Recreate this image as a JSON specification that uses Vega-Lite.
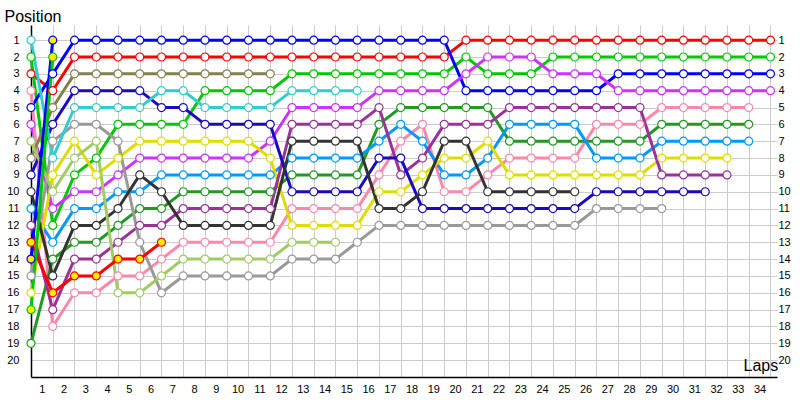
{
"$schema":"https://vega.github.io/schema/vega-lite/v6.json",
"width":746,"height":352,
"autosize":{"type":"none"},
"padding":{"left":31,"top":25,"right":23,"bottom":23},
"background":"white",
"config":{"view":{"stroke":null},"font":"Liberation Sans"},
"data":{"values":[
{"d":"red","lap":0,"pos":3},{"d":"red","lap":1,"pos":4},{"d":"red","lap":2,"pos":2},{"d":"red","lap":3,"pos":2},{"d":"red","lap":4,"pos":2},{"d":"red","lap":5,"pos":2},{"d":"red","lap":6,"pos":2},{"d":"red","lap":7,"pos":2},{"d":"red","lap":8,"pos":2},{"d":"red","lap":9,"pos":2},{"d":"red","lap":10,"pos":2},{"d":"red","lap":11,"pos":2},{"d":"red","lap":12,"pos":2},{"d":"red","lap":13,"pos":2},{"d":"red","lap":14,"pos":2},{"d":"red","lap":15,"pos":2},{"d":"red","lap":16,"pos":2},{"d":"red","lap":17,"pos":2},{"d":"red","lap":18,"pos":2},{"d":"red","lap":19,"pos":2},{"d":"red","lap":20,"pos":1},{"d":"red","lap":21,"pos":1},{"d":"red","lap":22,"pos":1},{"d":"red","lap":23,"pos":1},{"d":"red","lap":24,"pos":1},{"d":"red","lap":25,"pos":1},{"d":"red","lap":26,"pos":1},{"d":"red","lap":27,"pos":1},{"d":"red","lap":28,"pos":1},{"d":"red","lap":29,"pos":1},{"d":"red","lap":30,"pos":1},{"d":"red","lap":31,"pos":1},{"d":"red","lap":32,"pos":1},{"d":"red","lap":33,"pos":1},{"d":"red","lap":34,"pos":1},
{"d":"green","lap":0,"pos":2},{"d":"green","lap":1,"pos":12},{"d":"green","lap":2,"pos":9},{"d":"green","lap":3,"pos":8},{"d":"green","lap":4,"pos":6},{"d":"green","lap":5,"pos":6},{"d":"green","lap":6,"pos":6},{"d":"green","lap":7,"pos":6},{"d":"green","lap":8,"pos":4},{"d":"green","lap":9,"pos":4},{"d":"green","lap":10,"pos":4},{"d":"green","lap":11,"pos":4},{"d":"green","lap":12,"pos":3},{"d":"green","lap":13,"pos":3},{"d":"green","lap":14,"pos":3},{"d":"green","lap":15,"pos":3},{"d":"green","lap":16,"pos":3},{"d":"green","lap":17,"pos":3},{"d":"green","lap":18,"pos":3},{"d":"green","lap":19,"pos":3},{"d":"green","lap":20,"pos":2},{"d":"green","lap":21,"pos":3},{"d":"green","lap":22,"pos":3},{"d":"green","lap":23,"pos":3},{"d":"green","lap":24,"pos":2},{"d":"green","lap":25,"pos":2},{"d":"green","lap":26,"pos":2},{"d":"green","lap":27,"pos":2},{"d":"green","lap":28,"pos":2},{"d":"green","lap":29,"pos":2},{"d":"green","lap":30,"pos":2},{"d":"green","lap":31,"pos":2},{"d":"green","lap":32,"pos":2},{"d":"green","lap":33,"pos":2},{"d":"green","lap":34,"pos":2},
{"d":"blue","lap":0,"pos":5},{"d":"blue","lap":1,"pos":3},{"d":"blue","lap":2,"pos":1},{"d":"blue","lap":3,"pos":1},{"d":"blue","lap":4,"pos":1},{"d":"blue","lap":5,"pos":1},{"d":"blue","lap":6,"pos":1},{"d":"blue","lap":7,"pos":1},{"d":"blue","lap":8,"pos":1},{"d":"blue","lap":9,"pos":1},{"d":"blue","lap":10,"pos":1},{"d":"blue","lap":11,"pos":1},{"d":"blue","lap":12,"pos":1},{"d":"blue","lap":13,"pos":1},{"d":"blue","lap":14,"pos":1},{"d":"blue","lap":15,"pos":1},{"d":"blue","lap":16,"pos":1},{"d":"blue","lap":17,"pos":1},{"d":"blue","lap":18,"pos":1},{"d":"blue","lap":19,"pos":1},{"d":"blue","lap":20,"pos":4},{"d":"blue","lap":21,"pos":4},{"d":"blue","lap":22,"pos":4},{"d":"blue","lap":23,"pos":4},{"d":"blue","lap":24,"pos":4},{"d":"blue","lap":25,"pos":4},{"d":"blue","lap":26,"pos":4},{"d":"blue","lap":27,"pos":3},{"d":"blue","lap":28,"pos":3},{"d":"blue","lap":29,"pos":3},{"d":"blue","lap":30,"pos":3},{"d":"blue","lap":31,"pos":3},{"d":"blue","lap":32,"pos":3},{"d":"blue","lap":33,"pos":3},{"d":"blue","lap":34,"pos":3},
{"d":"magenta","lap":0,"pos":6},{"d":"magenta","lap":1,"pos":11},{"d":"magenta","lap":2,"pos":10},{"d":"magenta","lap":3,"pos":10},{"d":"magenta","lap":4,"pos":9},{"d":"magenta","lap":5,"pos":8},{"d":"magenta","lap":6,"pos":8},{"d":"magenta","lap":7,"pos":8},{"d":"magenta","lap":8,"pos":8},{"d":"magenta","lap":9,"pos":8},{"d":"magenta","lap":10,"pos":8},{"d":"magenta","lap":11,"pos":7},{"d":"magenta","lap":12,"pos":5},{"d":"magenta","lap":13,"pos":5},{"d":"magenta","lap":14,"pos":5},{"d":"magenta","lap":15,"pos":5},{"d":"magenta","lap":16,"pos":4},{"d":"magenta","lap":17,"pos":4},{"d":"magenta","lap":18,"pos":4},{"d":"magenta","lap":19,"pos":4},{"d":"magenta","lap":20,"pos":3},{"d":"magenta","lap":21,"pos":2},{"d":"magenta","lap":22,"pos":2},{"d":"magenta","lap":23,"pos":2},{"d":"magenta","lap":24,"pos":3},{"d":"magenta","lap":25,"pos":3},{"d":"magenta","lap":26,"pos":3},{"d":"magenta","lap":27,"pos":4},{"d":"magenta","lap":28,"pos":4},{"d":"magenta","lap":29,"pos":4},{"d":"magenta","lap":30,"pos":4},{"d":"magenta","lap":31,"pos":4},{"d":"magenta","lap":32,"pos":4},{"d":"magenta","lap":33,"pos":4},{"d":"magenta","lap":34,"pos":4},
{"d":"pink","lap":0,"pos":4},{"d":"pink","lap":1,"pos":18},{"d":"pink","lap":2,"pos":16},{"d":"pink","lap":3,"pos":16},{"d":"pink","lap":4,"pos":15},{"d":"pink","lap":5,"pos":15},{"d":"pink","lap":6,"pos":14},{"d":"pink","lap":7,"pos":13},{"d":"pink","lap":8,"pos":13},{"d":"pink","lap":9,"pos":13},{"d":"pink","lap":10,"pos":13},{"d":"pink","lap":11,"pos":13},{"d":"pink","lap":12,"pos":11},{"d":"pink","lap":13,"pos":11},{"d":"pink","lap":14,"pos":11},{"d":"pink","lap":15,"pos":11},{"d":"pink","lap":16,"pos":9},{"d":"pink","lap":17,"pos":7},{"d":"pink","lap":18,"pos":6},{"d":"pink","lap":19,"pos":10},{"d":"pink","lap":20,"pos":10},{"d":"pink","lap":21,"pos":9},{"d":"pink","lap":22,"pos":8},{"d":"pink","lap":23,"pos":8},{"d":"pink","lap":24,"pos":8},{"d":"pink","lap":25,"pos":8},{"d":"pink","lap":26,"pos":6},{"d":"pink","lap":27,"pos":6},{"d":"pink","lap":28,"pos":6},{"d":"pink","lap":29,"pos":5},{"d":"pink","lap":30,"pos":5},{"d":"pink","lap":31,"pos":5},{"d":"pink","lap":32,"pos":5},{"d":"pink","lap":33,"pos":5},
{"d":"fgreen","lap":0,"pos":19},{"d":"fgreen","lap":1,"pos":14},{"d":"fgreen","lap":2,"pos":13},{"d":"fgreen","lap":3,"pos":13},{"d":"fgreen","lap":4,"pos":12},{"d":"fgreen","lap":5,"pos":11},{"d":"fgreen","lap":6,"pos":11},{"d":"fgreen","lap":7,"pos":10},{"d":"fgreen","lap":8,"pos":10},{"d":"fgreen","lap":9,"pos":10},{"d":"fgreen","lap":10,"pos":10},{"d":"fgreen","lap":11,"pos":10},{"d":"fgreen","lap":12,"pos":9},{"d":"fgreen","lap":13,"pos":9},{"d":"fgreen","lap":14,"pos":9},{"d":"fgreen","lap":15,"pos":9},{"d":"fgreen","lap":16,"pos":6},{"d":"fgreen","lap":17,"pos":5},{"d":"fgreen","lap":18,"pos":5},{"d":"fgreen","lap":19,"pos":5},{"d":"fgreen","lap":20,"pos":5},{"d":"fgreen","lap":21,"pos":5},{"d":"fgreen","lap":22,"pos":7},{"d":"fgreen","lap":23,"pos":7},{"d":"fgreen","lap":24,"pos":7},{"d":"fgreen","lap":25,"pos":7},{"d":"fgreen","lap":26,"pos":7},{"d":"fgreen","lap":27,"pos":7},{"d":"fgreen","lap":28,"pos":7},{"d":"fgreen","lap":29,"pos":6},{"d":"fgreen","lap":30,"pos":6},{"d":"fgreen","lap":31,"pos":6},{"d":"fgreen","lap":32,"pos":6},{"d":"fgreen","lap":33,"pos":6},
{"d":"sky","lap":0,"pos":11},{"d":"sky","lap":1,"pos":13},{"d":"sky","lap":2,"pos":11},{"d":"sky","lap":3,"pos":11},{"d":"sky","lap":4,"pos":10},{"d":"sky","lap":5,"pos":10},{"d":"sky","lap":6,"pos":9},{"d":"sky","lap":7,"pos":9},{"d":"sky","lap":8,"pos":9},{"d":"sky","lap":9,"pos":9},{"d":"sky","lap":10,"pos":9},{"d":"sky","lap":11,"pos":9},{"d":"sky","lap":12,"pos":8},{"d":"sky","lap":13,"pos":8},{"d":"sky","lap":14,"pos":8},{"d":"sky","lap":15,"pos":8},{"d":"sky","lap":16,"pos":7},{"d":"sky","lap":17,"pos":6},{"d":"sky","lap":18,"pos":7},{"d":"sky","lap":19,"pos":9},{"d":"sky","lap":20,"pos":9},{"d":"sky","lap":21,"pos":8},{"d":"sky","lap":22,"pos":6},{"d":"sky","lap":23,"pos":6},{"d":"sky","lap":24,"pos":6},{"d":"sky","lap":25,"pos":6},{"d":"sky","lap":26,"pos":8},{"d":"sky","lap":27,"pos":8},{"d":"sky","lap":28,"pos":8},{"d":"sky","lap":29,"pos":7},{"d":"sky","lap":30,"pos":7},{"d":"sky","lap":31,"pos":7},{"d":"sky","lap":32,"pos":7},{"d":"sky","lap":33,"pos":7},
{"d":"yellow","lap":0,"pos":16},{"d":"yellow","lap":1,"pos":9},{"d":"yellow","lap":2,"pos":7},{"d":"yellow","lap":3,"pos":9},{"d":"yellow","lap":4,"pos":8},{"d":"yellow","lap":5,"pos":7},{"d":"yellow","lap":6,"pos":7},{"d":"yellow","lap":7,"pos":7},{"d":"yellow","lap":8,"pos":7},{"d":"yellow","lap":9,"pos":7},{"d":"yellow","lap":10,"pos":7},{"d":"yellow","lap":11,"pos":8},{"d":"yellow","lap":12,"pos":12},{"d":"yellow","lap":13,"pos":12},{"d":"yellow","lap":14,"pos":12},{"d":"yellow","lap":15,"pos":12},{"d":"yellow","lap":16,"pos":10},{"d":"yellow","lap":17,"pos":10},{"d":"yellow","lap":18,"pos":9},{"d":"yellow","lap":19,"pos":8},{"d":"yellow","lap":20,"pos":8},{"d":"yellow","lap":21,"pos":7},{"d":"yellow","lap":22,"pos":9},{"d":"yellow","lap":23,"pos":9},{"d":"yellow","lap":24,"pos":9},{"d":"yellow","lap":25,"pos":9},{"d":"yellow","lap":26,"pos":9},{"d":"yellow","lap":27,"pos":9},{"d":"yellow","lap":28,"pos":9},{"d":"yellow","lap":29,"pos":8},{"d":"yellow","lap":30,"pos":8},{"d":"yellow","lap":31,"pos":8},{"d":"yellow","lap":32,"pos":8},
{"d":"purple","lap":0,"pos":12},{"d":"purple","lap":1,"pos":17},{"d":"purple","lap":2,"pos":14},{"d":"purple","lap":3,"pos":14},{"d":"purple","lap":4,"pos":13},{"d":"purple","lap":5,"pos":12},{"d":"purple","lap":6,"pos":12},{"d":"purple","lap":7,"pos":11},{"d":"purple","lap":8,"pos":11},{"d":"purple","lap":9,"pos":11},{"d":"purple","lap":10,"pos":11},{"d":"purple","lap":11,"pos":11},{"d":"purple","lap":12,"pos":6},{"d":"purple","lap":13,"pos":6},{"d":"purple","lap":14,"pos":6},{"d":"purple","lap":15,"pos":6},{"d":"purple","lap":16,"pos":5},{"d":"purple","lap":17,"pos":9},{"d":"purple","lap":18,"pos":8},{"d":"purple","lap":19,"pos":6},{"d":"purple","lap":20,"pos":6},{"d":"purple","lap":21,"pos":6},{"d":"purple","lap":22,"pos":5},{"d":"purple","lap":23,"pos":5},{"d":"purple","lap":24,"pos":5},{"d":"purple","lap":25,"pos":5},{"d":"purple","lap":26,"pos":5},{"d":"purple","lap":27,"pos":5},{"d":"purple","lap":28,"pos":5},{"d":"purple","lap":29,"pos":9},{"d":"purple","lap":30,"pos":9},{"d":"purple","lap":31,"pos":9},{"d":"purple","lap":32,"pos":9},
{"d":"navy","lap":0,"pos":9},{"d":"navy","lap":1,"pos":6},{"d":"navy","lap":2,"pos":4},{"d":"navy","lap":3,"pos":4},{"d":"navy","lap":4,"pos":4},{"d":"navy","lap":5,"pos":4},{"d":"navy","lap":6,"pos":5},{"d":"navy","lap":7,"pos":5},{"d":"navy","lap":8,"pos":6},{"d":"navy","lap":9,"pos":6},{"d":"navy","lap":10,"pos":6},{"d":"navy","lap":11,"pos":6},{"d":"navy","lap":12,"pos":10},{"d":"navy","lap":13,"pos":10},{"d":"navy","lap":14,"pos":10},{"d":"navy","lap":15,"pos":10},{"d":"navy","lap":16,"pos":8},{"d":"navy","lap":17,"pos":8},{"d":"navy","lap":18,"pos":11},{"d":"navy","lap":19,"pos":11},{"d":"navy","lap":20,"pos":11},{"d":"navy","lap":21,"pos":11},{"d":"navy","lap":22,"pos":11},{"d":"navy","lap":23,"pos":11},{"d":"navy","lap":24,"pos":11},{"d":"navy","lap":25,"pos":11},{"d":"navy","lap":26,"pos":10},{"d":"navy","lap":27,"pos":10},{"d":"navy","lap":28,"pos":10},{"d":"navy","lap":29,"pos":10},{"d":"navy","lap":30,"pos":10},{"d":"navy","lap":31,"pos":10},
{"d":"gray","lap":0,"pos":15},{"d":"gray","lap":1,"pos":7},{"d":"gray","lap":2,"pos":6},{"d":"gray","lap":3,"pos":6},{"d":"gray","lap":4,"pos":7},{"d":"gray","lap":5,"pos":13},{"d":"gray","lap":6,"pos":16},{"d":"gray","lap":7,"pos":15},{"d":"gray","lap":8,"pos":15},{"d":"gray","lap":9,"pos":15},{"d":"gray","lap":10,"pos":15},{"d":"gray","lap":11,"pos":15},{"d":"gray","lap":12,"pos":14},{"d":"gray","lap":13,"pos":14},{"d":"gray","lap":14,"pos":14},{"d":"gray","lap":15,"pos":13},{"d":"gray","lap":16,"pos":12},{"d":"gray","lap":17,"pos":12},{"d":"gray","lap":18,"pos":12},{"d":"gray","lap":19,"pos":12},{"d":"gray","lap":20,"pos":12},{"d":"gray","lap":21,"pos":12},{"d":"gray","lap":22,"pos":12},{"d":"gray","lap":23,"pos":12},{"d":"gray","lap":24,"pos":12},{"d":"gray","lap":25,"pos":12},{"d":"gray","lap":26,"pos":11},{"d":"gray","lap":27,"pos":11},{"d":"gray","lap":28,"pos":11},{"d":"gray","lap":29,"pos":11},
{"d":"olive","lap":0,"pos":8},{"d":"olive","lap":1,"pos":5},{"d":"olive","lap":2,"pos":3},{"d":"olive","lap":3,"pos":3},{"d":"olive","lap":4,"pos":3},{"d":"olive","lap":5,"pos":3},{"d":"olive","lap":6,"pos":3},{"d":"olive","lap":7,"pos":3},{"d":"olive","lap":8,"pos":3},{"d":"olive","lap":9,"pos":3},{"d":"olive","lap":10,"pos":3},{"d":"olive","lap":11,"pos":3},
{"d":"cyan","lap":0,"pos":1},{"d":"cyan","lap":1,"pos":8},{"d":"cyan","lap":2,"pos":5},{"d":"cyan","lap":3,"pos":5},{"d":"cyan","lap":4,"pos":5},{"d":"cyan","lap":5,"pos":5},{"d":"cyan","lap":6,"pos":4},{"d":"cyan","lap":7,"pos":4},{"d":"cyan","lap":8,"pos":5},{"d":"cyan","lap":9,"pos":5},{"d":"cyan","lap":10,"pos":5},{"d":"cyan","lap":11,"pos":5},{"d":"cyan","lap":12,"pos":4},{"d":"cyan","lap":13,"pos":4},{"d":"cyan","lap":14,"pos":4},{"d":"cyan","lap":15,"pos":4},
{"d":"dgray","lap":0,"pos":10},{"d":"dgray","lap":1,"pos":15},{"d":"dgray","lap":2,"pos":12},{"d":"dgray","lap":3,"pos":12},{"d":"dgray","lap":4,"pos":11},{"d":"dgray","lap":5,"pos":9},{"d":"dgray","lap":6,"pos":10},{"d":"dgray","lap":7,"pos":12},{"d":"dgray","lap":8,"pos":12},{"d":"dgray","lap":9,"pos":12},{"d":"dgray","lap":10,"pos":12},{"d":"dgray","lap":11,"pos":12},{"d":"dgray","lap":12,"pos":7},{"d":"dgray","lap":13,"pos":7},{"d":"dgray","lap":14,"pos":7},{"d":"dgray","lap":15,"pos":7},{"d":"dgray","lap":16,"pos":11},{"d":"dgray","lap":17,"pos":11},{"d":"dgray","lap":18,"pos":10},{"d":"dgray","lap":19,"pos":7},{"d":"dgray","lap":20,"pos":7},{"d":"dgray","lap":21,"pos":10},{"d":"dgray","lap":22,"pos":10},{"d":"dgray","lap":23,"pos":10},{"d":"dgray","lap":24,"pos":10},{"d":"dgray","lap":25,"pos":10},
{"d":"lgreen","lap":0,"pos":7},{"d":"lgreen","lap":1,"pos":10},{"d":"lgreen","lap":2,"pos":8},{"d":"lgreen","lap":3,"pos":7},{"d":"lgreen","lap":4,"pos":16},{"d":"lgreen","lap":5,"pos":16},{"d":"lgreen","lap":6,"pos":15},{"d":"lgreen","lap":7,"pos":14},{"d":"lgreen","lap":8,"pos":14},{"d":"lgreen","lap":9,"pos":14},{"d":"lgreen","lap":10,"pos":14},{"d":"lgreen","lap":11,"pos":14},{"d":"lgreen","lap":12,"pos":13},{"d":"lgreen","lap":13,"pos":13},{"d":"lgreen","lap":14,"pos":13},
{"d":"red2","lap":0,"pos":13},{"d":"red2","lap":1,"pos":16},{"d":"red2","lap":2,"pos":15},{"d":"red2","lap":3,"pos":15},{"d":"red2","lap":4,"pos":14},{"d":"red2","lap":5,"pos":14},{"d":"red2","lap":6,"pos":13},
{"d":"blue2","lap":0,"pos":14},{"d":"blue2","lap":1,"pos":1},
{"d":"green2","lap":0,"pos":17},{"d":"green2","lap":1,"pos":2}
]},
"encoding":{
"x":{"field":"lap","type":"quantitative","scale":{"domain":[0,34.3],"nice":false,"zero":false},
"axis":{"values":[1,2,3,4,5,6,7,8,9,10,11,12,13,14,15,16,17,18,19,20,21,22,23,24,25,26,27,28,29,30,31,32,33,34],"labelOffset":-10.9,"ticks":false,"tickSize":0,"grid":true,"gridColor":"#cccccc","gridWidth":1,"domainColor":"#000000","domainWidth":1.5,"labelFont":"Liberation Sans","labelFontSize":11,"labelColor":"#000000","labelPadding":6,"labelFlush":false,"labelOverlap":false,"labelBound":false,"title":"Laps","titleX":712,"titleY":-7,"titleAlign":"left","titleBaseline":"alphabetic","titleFont":"Liberation Sans","titleFontSize":16,"titleFontWeight":"normal","titleColor":"#000000"}},
"detail":{"field":"d","type":"nominal"}
},
"layer":[
{"mark":{"type":"line","strokeWidth":3},
"encoding":{
"y":{"field":"pos","type":"quantitative","scale":{"domain":[0.1,21],"reverse":true,"nice":false,"zero":false},
"axis":{"orient":"left","values":[1,2,3,4,5,6,7,8,9,10,11,12,13,14,15,16,17,18,19,20],"ticks":false,"tickSize":0,"grid":true,"gridColor":"#cccccc","gridWidth":1,"domainColor":"#000000","domainWidth":1.5,"labelFont":"Liberation Sans","labelFontSize":11,"labelColor":"#000000","labelPadding":12,"labelOverlap":false,"labelBound":false,"labelFlush":false,"title":"Position","titleAngle":0,"titleX":-27,"titleY":-4,"titleAlign":"left","titleBaseline":"alphabetic","titleFont":"Liberation Sans","titleFontSize":16,"titleFontWeight":"normal","titleColor":"#000000"}},
"stroke":{"field":"d","type":"nominal","legend":null,"scale":{"domain":["red","green","blue","magenta","pink","fgreen","sky","yellow","purple","navy","gray","olive","cyan","dgray","lgreen","red2","blue2","green2"],"range":["#ff0000","#00c800","#0000ff","#cc33ff","#ff88aa","#229922","#0099ff","#dddd00","#993399","#1a0abf","#999999","#85804f","#33cccc","#333333","#a0cc66","#ff0000","#0000ff","#00c800"]}}
}},
{"mark":{"type":"point","shape":"circle","filled":true,"size":64,"strokeWidth":1.2,"opacity":1},
"encoding":{
"y":{"field":"pos","type":"quantitative","scale":{"domain":[0.1,21],"reverse":true,"nice":false,"zero":false},
"axis":{"orient":"right","values":[1,2,3,4,5,6,7,8,9,10,11,12,13,14,15,16,17,18,19,20],"ticks":false,"tickSize":0,"grid":false,"domain":false,"labelFont":"Liberation Sans","labelFontSize":11,"labelColor":"#000000","labelPadding":1,"labelOverlap":false,"labelBound":false,"labelFlush":false,"title":null}},
"stroke":{"field":"d","type":"nominal","legend":null},
"fill":{"field":"d","type":"nominal","legend":null,"scale":{"domain":["red","green","blue","magenta","pink","fgreen","sky","yellow","purple","navy","gray","olive","cyan","dgray","lgreen","red2","blue2","green2"],"range":["#ffffff","#ffffff","#ffffff","#ffffff","#ffffff","#ffffff","#ffffff","#ffffff","#ffffff","#ffffff","#ffffff","#ffffff","#ffffff","#ffffff","#ffffff","#ffee00","#ffee00","#ffee00"]}}
}}
],
"resolve":{"axis":{"y":"independent"}}
}
